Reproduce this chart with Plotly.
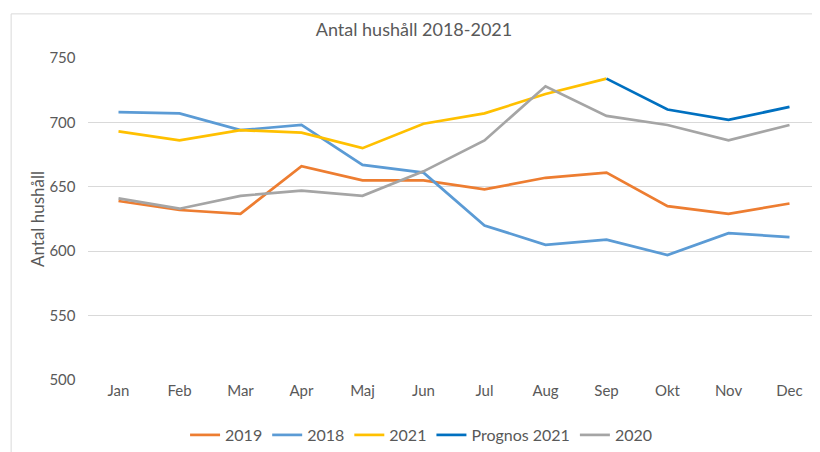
import plotly.graph_objects as go

months = ["Jan", "Feb", "Mar", "Apr", "Maj", "Jun", "Jul", "Aug", "Sep", "Okt", "Nov", "Dec"]
v2019 = [639, 632, 629, 666, 655, 655, 648, 657, 661, 635, 629, 637]
v2018 = [708, 707, 694, 698, 667, 661, 620, 605, 609, 597, 614, 611]
v2021 = [693, 686, 694, 692, 680, 699, 707, 722, 734, None, None, None]
prognos2021 = [None, None, None, None, None, None, None, None, 734, 710, 702, 712]
v2020 = [641, 633, 643, 647, 643, 662, 686, 728, 705, 698, 686, 698]

series = [
    ("2019", v2019, "#ED7D31"),
    ("2018", v2018, "#5B9BD5"),
    ("2021", v2021, "#FFC000"),
    ("Prognos 2021", prognos2021, "#0070C0"),
    ("2020", v2020, "#A5A5A5"),
]

fig = go.Figure()
for name, vals, col in series:
    fig.add_trace(go.Scatter(x=months, y=vals, name=name, mode="lines",
                             line=dict(color=col, width=2.7), connectgaps=False))

font = "Lato, Open Sans, sans-serif"
fig.update_layout(
    width=812, height=444,
    margin=dict(l=80, r=0, t=50, b=72),
    paper_bgcolor="white", plot_bgcolor="white",
    font=dict(family=font, color="#595959", size=15),
    title=dict(text="Antal hushåll 2018-2021", x=0.5, xanchor="center",
               y=0.9505, yanchor="middle", font=dict(size=18, color="#595959")),
    showlegend=True,
    legend=dict(orientation="h", x=0.455, xanchor="center", y=-0.171, yanchor="middle",
                font=dict(size=16, color="#595959"), itemwidth=30,
                traceorder="normal"),
    xaxis=dict(showgrid=False, showline=False, ticks="", tickfont=dict(size=15),
               range=[-0.5, 11.5]),
    yaxis=dict(range=[500, 750], dtick=50, showgrid=True, gridcolor="#D9D9D9",
               gridwidth=1, zeroline=False, showline=False, tickfont=dict(size=15),
               ticksuffix="   ",
               title=dict(text="Antal hushåll", font=dict(size=17, color="#595959"),
                          standoff=0)),
    shapes=[
        dict(type="line", xref="paper", yref="paper", x0=-0.105, x1=-0.105,
             y0=-0.3, y1=1.137, line=dict(color="#D9D9D9", width=1)),
        dict(type="line", xref="paper", yref="paper", x0=-0.105, x1=1.0,
             y0=1.137, y1=1.137, line=dict(color="#D9D9D9", width=1)),
    ],
)

fig.write_html("out.html")
